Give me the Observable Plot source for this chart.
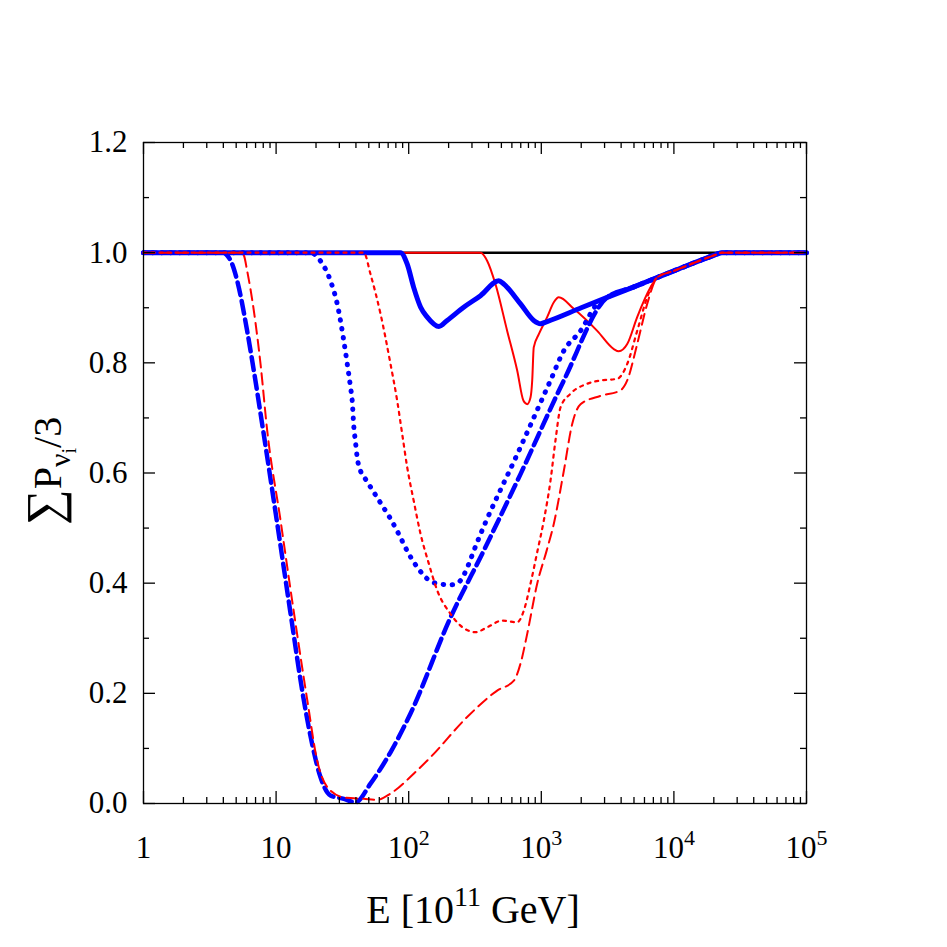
<!DOCTYPE html>
<html><head><meta charset="utf-8">
<script src="https://cdn.jsdelivr.net/npm/d3@7"></script>
<script src="https://cdn.jsdelivr.net/npm/@observablehq/plot@0.6"></script>
<style>
body{margin:0;background:#fff}
#chart svg{font-family:"Liberation Serif","Times New Roman",serif;display:block}
</style>
</head><body><div id="chart"></div>
<script>
// ---- data (E in units of 1e11 GeV, P = sum P_nu_i / 3) ----
const blackE = [1, 1e5];
const blackP = [1, 1];

const blueSolidE = [1, 86.7, 97.5, 109, 123, 138, 169, 195, 260, 348, 478, 521, 697, 877, 986, 1107, 2000, 5000, 10000, 20000, 23000, 1e5];
const blueSolidP = [1, 1, 0.979, 0.937, 0.901, 0.883, 0.866, 0.877, 0.901, 0.922, 0.949, 0.943, 0.907, 0.877, 0.871, 0.875, 0.900, 0.938, 0.967, 0.995, 1, 1];

const redSolidE = [1, 348, 391, 451, 553, 658, 734, 783, 829, 854, 877, 958, 1107, 1243, 1355, 1758, 2641, 3523, 3841, 4446, 5286, 6664, 7479, 10000, 20000, 23000, 1e5];
const redSolidP = [1, 1, 0.985, 0.943, 0.858, 0.786, 0.731, 0.725, 0.737, 0.768, 0.828, 0.852, 0.883, 0.910, 0.919, 0.898, 0.858, 0.825, 0.821, 0.834, 0.883, 0.937, 0.955, 0.967, 0.995, 1, 1];

const blueDashE = [1, 4.01, 4.28, 4.67, 5.09, 6.05, 6.79, 7.85, 10.8, 12.8, 16.2, 18.7, 21.6, 25.7, 32.4, 39.7, 51.5, 72.9, 103, 207, 368, 697, 1479, 3140, 5000, 10000, 20000, 23000, 1e5];
const blueDashP = [1, 1, 0.995, 0.979, 0.949, 0.858, 0.786, 0.689, 0.468, 0.348, 0.187, 0.108, 0.048, 0.0145, 0.0085, 0.002, 0.036, 0.093, 0.163, 0.338, 0.459, 0.598, 0.768, 0.919, 0.938, 0.967, 0.995, 1, 1];

const redDashE = [1, 5.39, 5.71, 6.05, 6.79, 7.63, 8.57, 10.8, 12.8, 17.2, 20.4, 24.3, 32.4, 45.9, 57.9, 72.9, 109, 146, 276, 465, 621, 697, 783, 931, 1100, 1243, 1479, 1710, 1976, 2794, 3954, 4446, 5286, 6290, 7479, 10000, 20000, 23000, 1e5];
const redDashP = [1, 1, 0.995, 0.967, 0.895, 0.798, 0.677, 0.514, 0.391, 0.187, 0.078, 0.030, 0.011, 0.0085, 0.0067, 0.018, 0.054, 0.084, 0.157, 0.205, 0.223, 0.254, 0.308, 0.399, 0.460, 0.508, 0.604, 0.689, 0.725, 0.740, 0.750, 0.768, 0.834, 0.907, 0.955, 0.967, 0.995, 1, 1];

const blueDotE = [1, 18.2, 21.6, 25.7, 28.9, 32.4, 34.4, 36.4, 37.5, 38.5, 39.7, 40.9, 43.3, 47.2, 54.6, 63.1, 72.9, 84.2, 100.2, 116, 138, 159, 207, 239, 284, 310, 697, 1173, 1479, 1976, 2641, 3140, 5000, 10000, 20000, 23000, 1e5];
const blueDotP = [1, 1, 0.985, 0.949, 0.907, 0.840, 0.798, 0.756, 0.731, 0.686, 0.656, 0.628, 0.604, 0.589, 0.565, 0.541, 0.517, 0.489, 0.453, 0.429, 0.408, 0.400, 0.397, 0.402, 0.435, 0.459, 0.647, 0.768, 0.822, 0.858, 0.907, 0.919, 0.938, 0.967, 0.995, 1, 1];

const redDotE = [1, 45.9, 51.5, 61.3, 72.9, 81.9, 89.3, 97.5, 109, 123, 142, 164, 207, 246, 319, 391, 507, 658, 738, 829, 931, 1045, 1173, 1279, 1396, 1660, 2219, 2794, 3735, 4446, 5286, 6290, 7479, 10000, 20000, 23000, 1e5];
const redDotP = [1, 1, 0.961, 0.889, 0.798, 0.731, 0.671, 0.610, 0.550, 0.489, 0.435, 0.387, 0.344, 0.323, 0.311, 0.320, 0.332, 0.329, 0.350, 0.399, 0.456, 0.514, 0.586, 0.659, 0.719, 0.744, 0.762, 0.768, 0.771, 0.798, 0.858, 0.919, 0.955, 0.967, 0.995, 1, 1];

// ---- ticks ----
const xMajor = [1, 10, 100, 1000, 10000, 100000];
const xLabels = ["1", "10", "10^{2}", "10^{3}", "10^{4}", "10^{5}"];
const xMinor = [2,3,4,5,6,7,8,9,20,30,40,50,60,70,80,90,200,300,400,500,600,700,800,900,2000,3000,4000,5000,6000,7000,8000,9000,20000,30000,40000,50000,60000,70000,80000,90000];
const yMajor = [0, 0.2, 0.4, 0.6, 0.8, 1.0, 1.2];
const yLabels = ["0.0", "0.2", "0.4", "0.6", "0.8", "1.0", "1.2"];
const yMinor = [0.1, 0.3, 0.5, 0.7, 0.9, 1.1];
const xTitle = "E [10^{11} GeV]";
const yTitle = "∑P";

// ---- build ----
const zip = (E, P) => E.map((e, i) => ({E: e, P: P[i]}));
const W = 947, H = 947, ML = 143, MR = 141, MT = 142, MB = 144;
const PW = W - ML - MR, PH = H - MT - MB;

const line = (E, P, o) => Plot.line(zip(E, P), {x: "E", y: "P", curve: "monotone-x", strokeLinejoin: "round", ...o});

const chart = Plot.plot({
  width: W, height: H,
  marginLeft: ML, marginRight: MR, marginTop: MT, marginBottom: MB,
  x: {type: "log", domain: [1, 1e5], axis: null},
  y: {domain: [0, 1.2], axis: null},
  style: {fontFamily: "Liberation Serif, Times New Roman, serif", background: "white", overflow: "visible"},
  marks: [
    line(blackE, blackP, {stroke: "#000", strokeWidth: 2.5}),
    line(redSolidE, redSolidP, {stroke: "#ff0000", strokeWidth: 2}),
    line(blueSolidE, blueSolidP, {stroke: "#0000ff", strokeWidth: 5}),
    line(blueDashE, blueDashP, {stroke: "#0000ff", strokeWidth: 4.5, strokeDasharray: "13,6"}),
    line(blueDotE, blueDotP, {stroke: "#0000ff", strokeWidth: 5, strokeDasharray: "0.5,8.5", strokeLinecap: "round"}),
    line(redDashE, redDashP, {stroke: "#ff0000", strokeWidth: 2, strokeDasharray: "11,6"}),
    line(redDotE, redDotP, {stroke: "#ff0000", strokeWidth: 2.2, strokeDasharray: "3,5"}),
    Plot.frame({stroke: "#000", strokeWidth: 1.3}),
    // ticks (inward)
    Plot.tickX(xMajor, {x: d => d, insetTop: PH - 12, stroke: "#000", strokeWidth: 1.3}),
    Plot.tickX(xMinor, {x: d => d, insetTop: PH - 6, stroke: "#000", strokeWidth: 1.3}),
    Plot.tickX(xMajor, {x: d => d, insetBottom: PH - 12, stroke: "#000", strokeWidth: 1.3}),
    Plot.tickX(xMinor, {x: d => d, insetBottom: PH - 6, stroke: "#000", strokeWidth: 1.3}),
    Plot.tickY(yMajor, {y: d => d, insetRight: PW - 12, stroke: "#000", strokeWidth: 1.3}),
    Plot.tickY(yMinor, {y: d => d, insetRight: PW - 6, stroke: "#000", strokeWidth: 1.3}),
    Plot.tickY(yMajor, {y: d => d, insetLeft: PW - 12, stroke: "#000", strokeWidth: 1.3}),
    Plot.tickY(yMinor, {y: d => d, insetLeft: PW - 6, stroke: "#000", strokeWidth: 1.3}),
    // tick labels
    Plot.text(xMajor, {x: d => d, text: (d, i) => xLabels[i], frameAnchor: "bottom", lineAnchor: "bottom", dy: 54, fontSize: 31, fill: "#000"}),
    Plot.text(yMajor, {y: d => d, text: (d, i) => yLabels[i], frameAnchor: "left", textAnchor: "end", dx: -16, fontSize: 31, fill: "#000"}),
    // axis titles
    Plot.text([xTitle], {frameAnchor: "bottom", lineAnchor: "bottom", dy: 119, dx: -2, fontSize: 40, fill: "#000"}),
    Plot.text([yTitle], {frameAnchor: "left", lineAnchor: "bottom", rotate: -90, dx: -83, dy: 52, fontSize: 40, fill: "#000"})
  ]
});
document.getElementById("chart").appendChild(chart);

// ---- rich text: superscripts / subscripts ----
const NS = "http://www.w3.org/2000/svg";
function addSpan(el, txt, size, dy) {
  const t = document.createElementNS(NS, "tspan");
  if (size) t.setAttribute("font-size", size);
  if (dy) t.setAttribute("dy", dy);
  t.textContent = txt;
  el.appendChild(t);
}
chart.querySelectorAll("text").forEach(el => {
  const s = el.textContent;
  if (s.includes("^{")) {
    const big = s.startsWith("E");
    const supSize = big ? 28 : 22, supDy = big ? -17 : -13;
    const parts = s.split(/\^\{([^}]*)\}/);
    el.textContent = "";
    let shift = 0;
    parts.forEach((p, i) => {
      if (!p) return;
      const sup = i % 2 === 1;
      const target = sup ? supDy : 0;
      addSpan(el, p, sup ? supSize : null, target - shift || null);
      shift = target;
    });
  } else if (s === yTitle) {
    el.textContent = "";
    addSpan(el, "∑", 50, null);
    addSpan(el, "P", 40, null);
    addSpan(el, "ν", 30, 9);
    addSpan(el, "i", 20, 6);
    addSpan(el, "/3", 40, -15);
  }
});
</script>
</body></html>
